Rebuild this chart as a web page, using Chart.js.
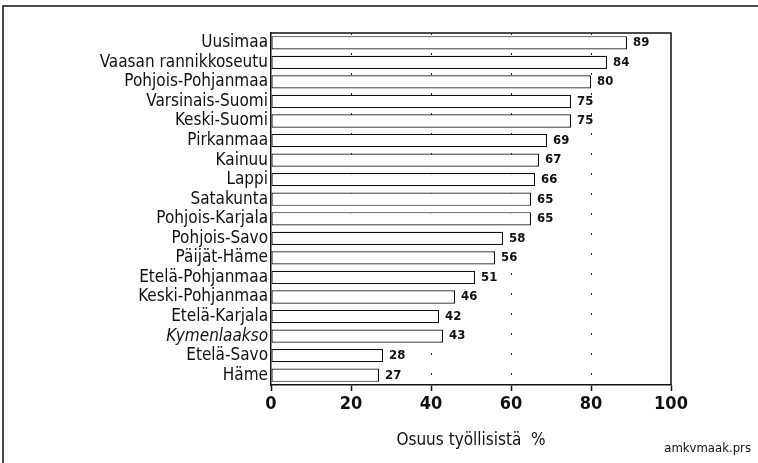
<!DOCTYPE html>
<html>
<head>
<meta charset="utf-8">
<script src="https://cdn.jsdelivr.net/npm/chart.js@4/dist/chart.umd.min.js"></script>
<style>
  html, body { margin: 0; padding: 0; background: #fff; }
  #wrap { width: 758px; height: 463px; position: relative; }
</style>
</head>
<body>
<div id="wrap"><canvas id="chart" width="758" height="463"></canvas></div>
<script>
// --- Data ---
const regions = [
    'Uusimaa', 'Vaasan rannikkoseutu', 'Pohjois-Pohjanmaa', 'Varsinais-Suomi',
    'Keski-Suomi', 'Pirkanmaa', 'Kainuu', 'Lappi', 'Satakunta', 'Pohjois-Karjala',
    'Pohjois-Savo', 'Päijät-Häme', 'Etelä-Pohjanmaa', 'Keski-Pohjanmaa',
    'Etelä-Karjala', 'Kymenlaakso', 'Etelä-Savo', 'Häme'
];
const shares = [89, 84, 80, 75, 75, 69, 67, 66, 65, 65, 58, 56, 51, 46, 42, 43, 28, 27];
const xTicks = [0, 20, 40, 60, 80, 100];
const axisTitle = 'Osuus työllisistä  %';
const fileTag = 'amkvmaak.prs';

const FONT = "'Liberation Sans Narrow', 'DejaVu Sans Condensed', 'Arial Narrow', sans-serif";

// value labels at bar ends + outer frame + file tag
const decorations = {
    id: 'decorations',
    afterDatasetsDraw(chart) {
        const ctx = chart.ctx;
        const area = chart.chartArea;
        ctx.save();
        // plot box (top + right)
        ctx.strokeStyle = '#111';
        ctx.lineWidth = 1.5;
        ctx.beginPath();
        ctx.moveTo(area.left, area.top);
        ctx.lineTo(area.right, area.top);
        ctx.lineTo(area.right, area.bottom);
        ctx.stroke();

        // page frame (top + left only, as in the scan)
        ctx.beginPath();
        ctx.moveTo(3, 463);
        ctx.lineTo(3, 6);
        ctx.lineTo(758, 6);
        ctx.stroke();

        // value labels
        const meta = chart.getDatasetMeta(0);
        ctx.fillStyle = '#111';
        ctx.font = 'bold 13px ' + FONT;
        ctx.textAlign = 'left';
        ctx.textBaseline = 'middle';
        meta.data.forEach((bar, i) => {
            ctx.fillText(String(shares[i]), bar.x + 6, bar.y);
        });

        // file tag
        ctx.font = '13px ' + FONT;
        ctx.textAlign = 'right';
        ctx.fillText(fileTag, 751, 449);
        ctx.restore();
    }
};

new Chart(document.getElementById('chart').getContext('2d'), {
    type: 'bar',
    data: {
        labels: regions,
        datasets: [{
            data: shares,
            backgroundColor: '#ffffff',
            borderColor: '#111111',
            borderWidth: 1.2,
            borderSkipped: false,
            categoryPercentage: 1,
            barPercentage: 0.68
        }]
    },
    options: {
        indexAxis: 'y',
        responsive: false,
        animation: false,
        layout: { padding: { top: 33, right: 87, left: 0, bottom: 12 } },
        plugins: {
            legend: { display: false },
            tooltip: { enabled: false }
        },
        scales: {
            x: {
                min: 0,
                max: 100,
                afterBuildTicks: scale => { scale.ticks = xTicks.map(v => ({ value: v })); },
                afterFit: scale => { scale.height = 66; },
                grid: {
                    color: ctx => (ctx.tick && (ctx.tick.value === 0 || ctx.tick.value === 100)) ? 'rgba(0,0,0,0)' : '#222',
                    lineWidth: 1,
                    tickLength: 6,
                    tickColor: '#111',
                    tickWidth: 1.5,
                    tickBorderDash: []
                },
                border: { display: true, color: '#111', width: 1.5, dash: [2, 18] },
                ticks: {
                    color: '#111',
                    padding: 3,
                    font: { family: FONT, size: 18, weight: 'bold' }
                },
                title: {
                    display: true,
                    text: axisTitle,
                    color: '#111',
                    padding: { top: 8, bottom: 0 },
                    font: { family: FONT, size: 17 }
                }
            },
            y: {
                afterFit: scale => { scale.width = 271; },
                grid: { display: false, drawTicks: false },
                border: { display: true, color: '#111', width: 1.5 },
                ticks: {
                    color: '#111',
                    padding: 3,
                    autoSkip: false,
                    font: ctx => ({
                        family: FONT,
                        size: 17,
                        style: ctx.tick && ctx.tick.label === 'Kymenlaakso' ? 'italic' : 'normal'
                    })
                }
            }
        }
    },
    plugins: [decorations]
});
</script>
</body>
</html>
